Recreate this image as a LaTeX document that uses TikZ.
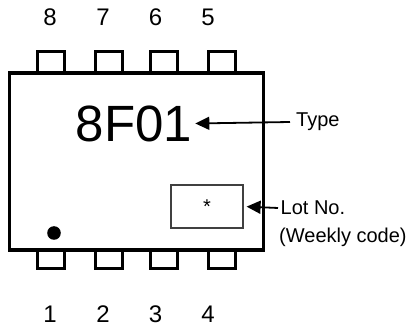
\documentclass[tikz,border=0pt]{standalone}
\usepackage{fontspec}
\setmainfont{Liberation Sans}
\usetikzlibrary{arrows.meta,positioning}

\tikzset{
	pinlabel/.style={font=\fontsize{24}{28}\selectfont, inner sep=0pt},
	tagtext/.style={font=\fontsize{20}{24}\selectfont, inner sep=0pt, anchor=west},
	tagarrow/.style={line width=1.8pt, -{Triangle[length=14pt,width=13pt]}}
}

\begin{document}
\begin{tikzpicture}[x=1pt,y=-1pt]
\useasboundingbox (0,0) rectangle (410,331);
%body
\begin{scope}[line width=3.3pt]
\draw (9.5,73) rectangle (263.5,250);
\fill (54,233) circle (6.8);
\end{scope}
%pins 8..5
\begin{scope}[line width=3pt]
\draw (37.5,73) -- (37.5,51.5) -- (64.5,51.5) -- (64.5,73)
	(95.5,73) -- (95.5,51.5) -- (122.5,51.5) -- (122.5,73)
	(150.5,73) -- (150.5,51.5) -- (177.5,51.5) -- (177.5,73)
	(208.5,73) -- (208.5,51.5) -- (235.5,51.5) -- (235.5,73);
\end{scope}
%pins 1..4
\begin{scope}[line width=3pt]
\draw (37.5,250) -- (37.5,269) -- (64.5,269) -- (64.5,250)
	(95.5,250) -- (95.5,269) -- (122.5,269) -- (122.5,250)
	(150.5,250) -- (150.5,269) -- (177.5,269) -- (177.5,250)
	(208.5,250) -- (208.5,269) -- (235.5,269) -- (235.5,250);
\end{scope}
%pin numbers
\path (50,17) node[pinlabel] (p8) {8}
	(103,17) node[pinlabel] (p7) {7}
	(155.5,17) node[pinlabel] (p6) {6}
	(208,17) node[pinlabel] (p5) {5};
\path (50,314) node[pinlabel] (p1) {1}
	(103,314) node[pinlabel] (p2) {2}
	(155.5,314) node[pinlabel] (p3) {3}
	(208,314) node[pinlabel] (p4) {4};
%marking
\path (134,123.5) node[font=\fontsize{51}{56}\selectfont, inner ysep=0pt, inner xsep=3pt] (code) {8F01};
\path (207,206.5) node[draw=black!75, line width=1.2pt, minimum width=72pt, minimum height=43pt, inner sep=0pt, font=\fontsize{20}{24}\selectfont] (lotbox) {*};
%tags
\path (290,122) node[tagtext, inner xsep=6pt] (typ) {Type};
\path (278,208) node[tagtext, inner xsep=2.5pt] (lot) {Lot No.};
\path (279,237) node[tagtext] (week) {(Weekly code)};
\draw[tagarrow] (typ.west) -- (code.east);
\draw[tagarrow, shorten >=3pt] (lot.west) -- (lotbox.east);
\end{tikzpicture}
\end{document}
